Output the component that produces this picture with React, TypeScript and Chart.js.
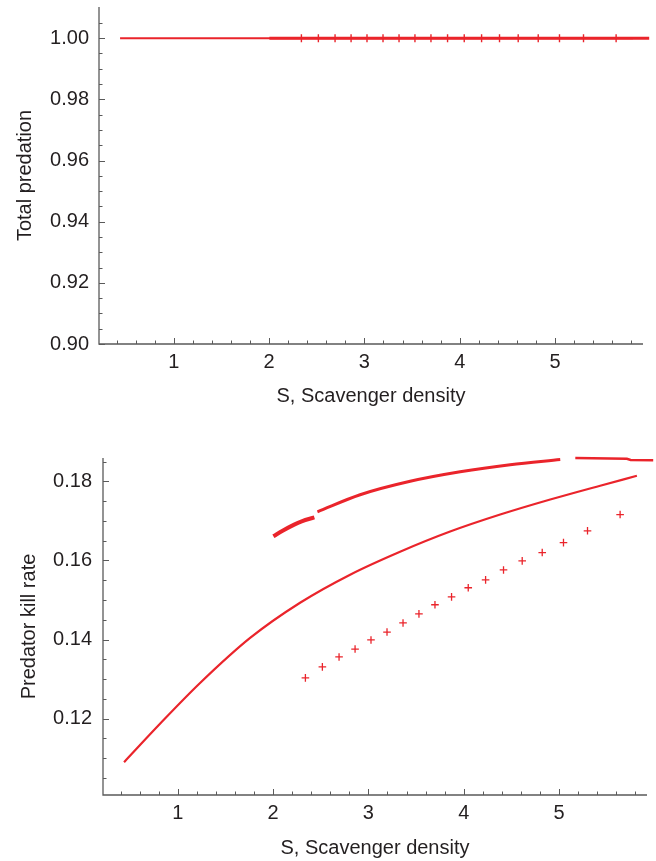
import React, { useEffect, useRef } from "react";
import { Chart, registerables } from "chart.js";

Chart.register(...registerables);

// ---------- data ----------
const X_MIN = 0.216;
const X_MAX = 5.922;

const xMajorTicks = [1, 2, 3, 4, 5];
const xMinorTicks = [0.4, 0.6, 0.8, 1.2, 1.4, 1.6, 1.8, 2.2, 2.4, 2.6, 2.8, 3.2, 3.4, 3.6, 3.8, 4.2, 4.4, 4.6, 4.8, 5.2, 5.4, 5.6, 5.8];

const topYTicks = [0.9, 0.92, 0.94, 0.96, 0.98, 1.0];
const topYMinor = [0.905, 0.91, 0.915, 0.925, 0.93, 0.935, 0.945, 0.95, 0.955, 0.965, 0.97, 0.975, 0.985, 0.99, 0.995, 1.005];
const TOP_Y_MIN = 0.9;
const TOP_Y_MAX = 1.0102;

const bottomYTicks = [0.12, 0.14, 0.16, 0.18];
const bottomYMinor = [0.105, 0.11, 0.115, 0.125, 0.13, 0.135, 0.145, 0.15, 0.155, 0.165, 0.17, 0.175, 0.185];
const BOT_Y_MIN = 0.1007;
const BOT_Y_MAX = 0.1859;

// solid (stable) branch
const solidS = [0.437, 0.814, 1.234, 1.759, 2.283, 2.808, 3.332, 3.857, 4.382, 4.907, 5.431, 5.816];
const solidKill = [0.109, 0.1187, 0.129, 0.1404, 0.1493, 0.1564, 0.1622, 0.1673, 0.1716, 0.1754, 0.1789, 0.1814];
const solidTotal = [1, 1, 1, 1, 1, 1, 1, 1, 1, 1, 1, 1];

// upper branch (three pieces)
const upperAS = [2.003, 2.1, 2.2, 2.3, 2.433];
const upperAKill = [0.1661, 0.1675, 0.1688, 0.1699, 0.1709];
const upperBS = [2.465, 2.913, 3.438, 3.962, 4.487, 5.012];
const upperBKill = [0.1723, 0.1766, 0.18, 0.1824, 0.1842, 0.1855];
const upperCS = [5.17, 5.711, 5.75, 5.987];
const upperCKill = [0.1859, 0.1857, 0.1854, 0.1853];
const upperS = [2.003, 5.987];
const upperTotal = [1, 1];

// "+" markers
const markerS = [2.339, 2.517, 2.692, 2.86, 3.027, 3.195, 3.363, 3.53, 3.698, 3.872, 4.047, 4.229, 4.417, 4.613, 4.823, 5.046, 5.298, 5.64];
const markerKill = [0.1303, 0.1331, 0.1356, 0.1376, 0.1399, 0.1419, 0.1442, 0.1465, 0.1488, 0.1508, 0.1531, 0.1551, 0.1576, 0.1599, 0.162, 0.1645, 0.1675, 0.1716];
const markerTotal = [1, 1, 1, 1, 1, 1, 1, 1, 1, 1, 1, 1, 1, 1, 1, 1, 1, 1];

// ---------- style ----------
const RED = "rgb(234,36,43)";
const AXIS = "#5a5a5a";
const TEXT = "#231f20";
const FONT = "'Liberation Sans', Arial, Helvetica, sans-serif";
const FS = 20;

const pts = (xs: number[], ys: number[]) => xs.map((x, i) => ({ x, y: ys[i] }));

const axisPlugin = (yMinor: number[], yMajor: number[]) => ({
  id: "inwardTicks",
  afterDraw(chart: any) {
    const { ctx, chartArea } = chart;
    const xs = chart.scales.x;
    const ys = chart.scales.y;
    const { left, right, top, bottom } = chartArea;
    ctx.save();
    ctx.strokeStyle = AXIS;
    ctx.lineWidth = 1.3;
    ctx.beginPath();
    ctx.moveTo(left, top);
    ctx.lineTo(left, bottom);
    ctx.lineTo(right, bottom);
    ctx.stroke();
    ctx.lineWidth = 1;
    ctx.beginPath();
    xMajorTicks.forEach((v) => {
      const p = Math.round(xs.getPixelForValue(v)) + 0.5;
      ctx.moveTo(p, bottom);
      ctx.lineTo(p, bottom - 6);
    });
    xMinorTicks.forEach((v) => {
      const p = Math.round(xs.getPixelForValue(v)) + 0.5;
      ctx.moveTo(p, bottom);
      ctx.lineTo(p, bottom - 3.5);
    });
    yMajor.forEach((v) => {
      const p = Math.round(ys.getPixelForValue(v)) + 0.5;
      ctx.moveTo(left, p);
      ctx.lineTo(left + 6, p);
    });
    yMinor.forEach((v) => {
      const p = Math.round(ys.getPixelForValue(v)) + 0.5;
      ctx.moveTo(left, p);
      ctx.lineTo(left + 3.5, p);
    });
    ctx.stroke();
    ctx.restore();
  },
});

function makeOptions(p: {
  yMin: number;
  yMax: number;
  yTicks: number[];
  yTitle: string;
  yTitlePad: number;
  yTickPad: number;
  yWidth: number;
  xHeight: number;
  xTickPad: number;
  xTitlePad: number;
  top: number;
  right: number;
}) {
  return {
    responsive: false,
    animation: false as const,
    layout: { padding: { top: p.top, right: p.right, left: 0, bottom: 0 } },
    plugins: { legend: { display: false }, tooltip: { enabled: false } },
    scales: {
      x: {
        type: "linear" as const,
        min: X_MIN,
        max: X_MAX,
        grid: { display: false, drawTicks: false },
        border: { display: false },
        afterBuildTicks: (s: any) => {
          s.ticks = xMajorTicks.map((v) => ({ value: v }));
        },
        afterFit: (s: any) => {
          s.height = p.xHeight;
          s.paddingLeft = 0;
          s.paddingRight = 0;
        },
        ticks: {
          padding: p.xTickPad,
          color: TEXT,
          font: { family: FONT, size: FS },
          maxRotation: 0,
          callback: (v: any) => String(v),
        },
        title: {
          display: true,
          text: "S, Scavenger density",
          color: TEXT,
          font: { family: FONT, size: FS },
          padding: { top: 0, bottom: p.xTitlePad },
        },
      },
      y: {
        type: "linear" as const,
        min: p.yMin,
        max: p.yMax,
        grid: { display: false, drawTicks: false },
        border: { display: false },
        afterBuildTicks: (s: any) => {
          s.ticks = p.yTicks.map((v) => ({ value: v }));
        },
        afterFit: (s: any) => {
          s.width = p.yWidth;
          s.paddingTop = 0;
          s.paddingBottom = 0;
        },
        ticks: {
          padding: p.yTickPad,
          color: TEXT,
          font: { family: FONT, size: FS },
          callback: (v: any) => Number(v).toFixed(2),
        },
        title: {
          display: true,
          text: p.yTitle,
          color: TEXT,
          font: { family: FONT, size: FS },
          padding: { top: p.yTitlePad, bottom: 0 },
        },
      },
    },
  };
}

function ChartCanvas({ config, width, height, top }: any) {
  const ref = useRef<HTMLCanvasElement | null>(null);
  useEffect(() => {
    if (!ref.current) return;
    const chart = new Chart(ref.current, config());
    return () => chart.destroy();
  }, []);
  return (
    <canvas
      ref={ref}
      width={width}
      height={height}
      style={{ position: "absolute", left: 0, top, width, height }}
    />
  );
}

const topConfig = () => ({
  type: "line" as const,
  data: {
    datasets: [
      {
        data: pts(solidS, solidTotal),
        borderColor: RED,
        borderWidth: 2,
        pointRadius: 0,
        clip: false as const,
      },
      {
        data: pts(upperS, upperTotal),
        borderColor: RED,
        borderWidth: 3,
        pointRadius: 0,
        clip: false as const,
      },
      {
        data: pts(markerS, markerTotal),
        showLine: false,
        pointStyle: "cross" as const,
        pointRadius: 4,
        pointBorderWidth: 1.4,
        pointBorderColor: RED,
        borderColor: RED,
      },
    ],
  },
  options: makeOptions({
    yMin: TOP_Y_MIN,
    yMax: TOP_Y_MAX,
    yTicks: topYTicks,
    yTitle: "Total predation",
    yTitlePad: 13,
    yTickPad: 10,
    yWidth: 99,
    xHeight: 76,
    xTickPad: 6,
    xTitlePad: 12,
    top: 7,
    right: 13,
  }),
  plugins: [axisPlugin(topYMinor, topYTicks)],
});

const bottomConfig = () => ({
  type: "line" as const,
  data: {
    datasets: [
      {
        data: pts(solidS, solidKill),
        borderColor: RED,
        borderWidth: 2.2,
        pointRadius: 0,
        cubicInterpolationMode: "monotone" as const,
      },
      {
        data: pts(upperAS, upperAKill),
        borderColor: RED,
        borderWidth: 4,
        pointRadius: 0,
        tension: 0.4,
      },
      {
        data: pts(upperBS, upperBKill),
        borderColor: RED,
        borderWidth: 3,
        pointRadius: 0,
        cubicInterpolationMode: "monotone" as const,
      },
      {
        data: pts(upperCS, upperCKill),
        borderColor: RED,
        borderWidth: 2.5,
        pointRadius: 0,
        clip: false as const,
      },
      {
        data: pts(markerS, markerKill),
        showLine: false,
        pointStyle: "cross" as const,
        pointRadius: 3.8,
        pointBorderWidth: 1.3,
        pointBorderColor: RED,
        borderColor: RED,
      },
    ],
  },
  options: makeOptions({
    yMin: BOT_Y_MIN,
    yMax: BOT_Y_MAX,
    yTicks: bottomYTicks,
    yTitle: "Predator kill rate",
    yTitlePad: 17,
    yTickPad: 11,
    yWidth: 103,
    xHeight: 66,
    xTickPad: 6,
    xTitlePad: 1,
    top: 38,
    right: 9,
  }),
  plugins: [axisPlugin(bottomYMinor, bottomYTicks)],
});

export default function App() {
  return (
    <div style={{ position: "absolute", left: 0, top: 0, width: 656, height: 861, background: "#fff" }}>
      <ChartCanvas config={topConfig} width={656} height={420} top={0} />
      <ChartCanvas config={bottomConfig} width={656} height={441} top={420} />
    </div>
  );
}
